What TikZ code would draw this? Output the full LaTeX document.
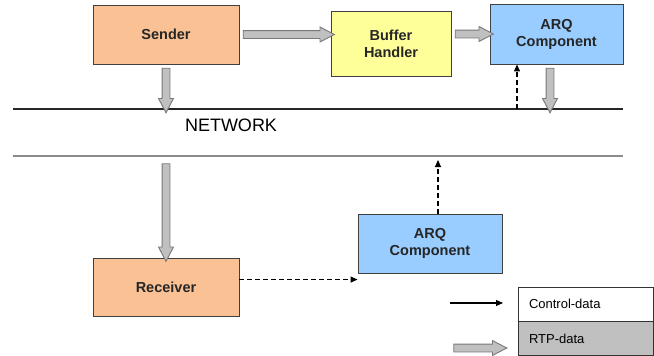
\documentclass[tikz,border=0pt]{standalone}
\usepackage{fontspec}
\setmainfont{Liberation Sans}
\usetikzlibrary{calc,positioning,shapes.arrows,arrows.meta}

\definecolor{senderfill}{RGB}{250,194,148}
\definecolor{bufferfill}{RGB}{255,255,153}
\definecolor{arqfill}{RGB}{153,204,255}
\definecolor{rtpfill}{RGB}{192,192,192}
\definecolor{rtpline}{RGB}{120,120,120}

% fat grey arrow between two points
\newcommand{\rtparrow}[2]{%
  \path let \p1=($(#2)-(#1)$), \n1={veclen(\x1,\y1)}, \n2={atan2(\y1,\x1)} in
    node[rtp arrow,minimum height=\n1,rotate=\n2] at ($(#1)!0.5!(#2)$) {};}

\begin{document}
\begin{tikzpicture}[x=1pt,y=1pt,
  box/.style={draw=black!75,line width=0.9pt,inner sep=0pt,align=center,text=black!85,font=\bfseries\fontsize{14.5}{17}\selectfont},
  ctrl/.style={line width=1.1pt,-{Triangle[length=7pt,width=6pt]}},
  rtp arrow/.style={single arrow,draw=rtpline,fill=rtpfill,line width=0.9pt,inner xsep=0pt,inner ysep=3.5pt,outer sep=0pt,
    minimum width=14pt,single arrow head extend=3.5pt,single arrow tip angle=55},
  netline/.style={line width=1.3pt},
  legend/.style={draw=black!80,line width=0.6pt,minimum width=135pt,minimum height=34pt,inner sep=0pt,
    text width=113pt,align=left,font=\fontsize{13}{15}\selectfont}]

\useasboundingbox (0,0) rectangle (654,-356);

% sender side
\node[box,fill=senderfill,minimum width=146pt,minimum height=59pt] (sender) at (166,-34.5) {Sender};
\node[box,fill=bufferfill,minimum width=120pt,minimum height=65pt] (buffer) at (391,-43.5) {Buffer\\Handler};
\node[box,fill=arqfill,minimum width=133pt,minimum height=60pt] (arqtop) at (556.5,-34) {ARQ\\Component};

% network
\coordinate (net1w) at (13,-109);
\coordinate (net1e) at (623,-109);
\coordinate (net2w) at (13,-156);
\coordinate (net2e) at (623,-156);
\draw[netline,black!85] (net1w) -- (net1e);
\draw[netline,black!45] (net2w) -- (net2e);
\node[font=\fontsize{18}{20}\selectfont] (network) at (231,-125) {NETWORK};

% receiver side
\node[box,fill=senderfill,minimum width=146pt,minimum height=58pt] (receiver) at (166,-287) {Receiver};
\node[box,fill=arqfill,minimum width=144pt,minimum height=59pt] (arqbot) at (430,-243.5) {ARQ\\Component};

% legend
\node[legend,fill=white] (ctrlbox) at (585.5,-304) {Control-data};
\node[legend,fill=rtpfill,below=0pt of ctrlbox] (rtpbox) {RTP-data};
\coordinate (lc1) at (450,-303);
\coordinate (lc2) at (503,-303);
\coordinate (lr1) at (450,-348);
\coordinate (lr2) at (503,-348);

% RTP-data arrows
\rtparrow{sender.east}{buffer.west |- sender.east}
\rtparrow{buffer.east |- arqtop.west}{arqtop.west}
\rtparrow{sender.south}{sender.south |- net1w}
\rtparrow{[xshift=-6.5pt]arqtop.south}{[xshift=-6.5pt]arqtop.south |- net1w}
\rtparrow{receiver.north |- 0,-160}{receiver.north}
\rtparrow{lr1}{lr2}

% control-data arrows
\draw[ctrl,dash pattern=on 5pt off 3pt] ([xshift=-39.5pt]arqtop.south |- net1w) -- ([xshift=-39.5pt]arqtop.south);
\draw[ctrl,dash pattern=on 5pt off 3pt] ([yshift=-22pt]receiver.north east) -- ([yshift=-22pt]receiver.north east -| arqbot.west);
\draw[ctrl,dash pattern=on 5pt off 3pt] ([xshift=8pt]arqbot.north) -- ([xshift=8pt]arqbot.north |- 0,-160);
\draw[ctrl] (lc1) -- (lc2);
\end{tikzpicture}
\end{document}
